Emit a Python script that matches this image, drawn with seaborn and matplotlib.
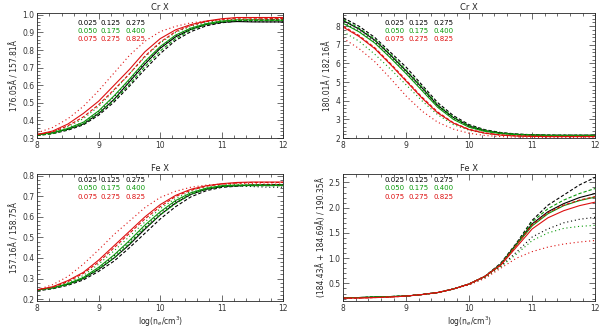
import numpy as np
import pandas as pd
import matplotlib
matplotlib.use('Agg')
import matplotlib.pyplot as plt
from matplotlib.ticker import AutoMinorLocator, MultipleLocator
import seaborn as sns

# density grid log(ne / cm^-3)
log_ne = [8.0, 8.25, 8.5, 8.75, 9.0, 9.25, 9.5, 9.75, 10.0,
          10.25, 10.5, 10.75, 11.0, 11.25, 11.5, 11.75, 12.0]

# legend table: rows -> colour, columns -> line style
row_names = ['k', 'g', 'r']
col_names = ['dot', 'solid', 'dash']
legend_rows = [['0.025', '0.125', '0.275'],
               ['0.050', '0.175', '0.400'],
               ['0.075', '0.275', '0.825']]

titles = ['Cr X', 'Cr X', 'Fe X', 'Fe X']
ylabels = ['176.05Å / 157.81Å', '180.01Å / 182.16Å',
           '157.16Å / 158.75Å', '(184.43Å + 184.69Å) / 190.35Å']

# panel 1 (top left)
p1_k_dot = [0.32, 0.33, 0.355, 0.39, 0.45, 0.535, 0.63, 0.73, 0.815, 0.88, 0.925, 0.95, 0.962, 0.965, 0.962, 0.96, 0.96]
p1_k_solid = [0.32, 0.33, 0.35, 0.38, 0.44, 0.52, 0.62, 0.72, 0.81, 0.875, 0.918, 0.945, 0.958, 0.962, 0.96, 0.96, 0.96]
p1_k_dash = [0.315, 0.325, 0.345, 0.375, 0.43, 0.505, 0.595, 0.69, 0.78, 0.855, 0.905, 0.938, 0.955, 0.965, 0.97, 0.972, 0.972]
p1_g_dot = [0.32, 0.335, 0.365, 0.41, 0.48, 0.57, 0.665, 0.76, 0.84, 0.9, 0.935, 0.958, 0.97, 0.975, 0.975, 0.975, 0.975]
p1_g_solid = [0.32, 0.33, 0.355, 0.39, 0.455, 0.54, 0.635, 0.735, 0.82, 0.885, 0.925, 0.95, 0.965, 0.972, 0.972, 0.97, 0.97]
p1_g_dash = [0.315, 0.325, 0.35, 0.38, 0.44, 0.515, 0.605, 0.705, 0.795, 0.865, 0.915, 0.945, 0.96, 0.968, 0.968, 0.968, 0.968]
p1_r_dot = [0.33, 0.36, 0.41, 0.48, 0.57, 0.67, 0.77, 0.85, 0.905, 0.935, 0.955, 0.965, 0.972, 0.975, 0.975, 0.975, 0.975]
p1_r_solid = [0.32, 0.34, 0.38, 0.44, 0.51, 0.60, 0.69, 0.79, 0.865, 0.915, 0.945, 0.965, 0.978, 0.985, 0.985, 0.985, 0.985]
p1_r_dash = [0.32, 0.335, 0.37, 0.42, 0.49, 0.575, 0.665, 0.765, 0.845, 0.905, 0.94, 0.962, 0.975, 0.982, 0.982, 0.98, 0.98]

# panel 2 (top right)
p2_k_dot = [8.2, 7.75, 7.15, 6.35, 5.5, 4.6, 3.7, 3.05, 2.6, 2.37, 2.25, 2.19, 2.16, 2.15, 2.15, 2.15, 2.15]
p2_k_solid = [8.3, 7.85, 7.25, 6.45, 5.6, 4.7, 3.75, 3.1, 2.65, 2.4, 2.27, 2.2, 2.17, 2.15, 2.15, 2.15, 2.15]
p2_k_dash = [8.45, 8.0, 7.4, 6.6, 5.8, 4.85, 3.9, 3.2, 2.72, 2.45, 2.3, 2.22, 2.18, 2.16, 2.15, 2.15, 2.15]
p2_g_dot = [7.7, 7.2, 6.5, 5.7, 4.85, 4.0, 3.25, 2.72, 2.42, 2.25, 2.16, 2.12, 2.1, 2.1, 2.1, 2.1, 2.1]
p2_g_solid = [8.15, 7.7, 7.1, 6.3, 5.45, 4.55, 3.65, 3.0, 2.58, 2.36, 2.24, 2.18, 2.15, 2.14, 2.14, 2.14, 2.14]
p2_g_dash = [8.35, 7.9, 7.3, 6.5, 5.65, 4.75, 3.8, 3.12, 2.67, 2.42, 2.28, 2.21, 2.18, 2.16, 2.15, 2.15, 2.15]
p2_r_dot = [7.35, 6.8, 6.1, 5.2, 4.25, 3.45, 2.85, 2.48, 2.26, 2.14, 2.08, 2.05, 2.04, 2.04, 2.04, 2.04, 2.04]
p2_r_solid = [7.95, 7.45, 6.8, 5.95, 5.05, 4.15, 3.35, 2.8, 2.45, 2.26, 2.16, 2.11, 2.09, 2.08, 2.08, 2.08, 2.08]
p2_r_dash = [8.0, 7.5, 6.85, 6.0, 5.1, 4.2, 3.4, 2.82, 2.47, 2.28, 2.17, 2.12, 2.1, 2.09, 2.09, 2.09, 2.09]

# panel 3 (bottom left)
p3_k_dot = [0.245, 0.255, 0.275, 0.305, 0.352, 0.41, 0.478, 0.55, 0.62, 0.675, 0.715, 0.738, 0.75, 0.752, 0.748, 0.745, 0.745]
p3_k_solid = [0.245, 0.254, 0.272, 0.3, 0.345, 0.4, 0.465, 0.54, 0.61, 0.668, 0.71, 0.735, 0.748, 0.752, 0.755, 0.755, 0.755]
p3_k_dash = [0.24, 0.25, 0.267, 0.293, 0.335, 0.385, 0.45, 0.52, 0.59, 0.65, 0.698, 0.728, 0.744, 0.75, 0.755, 0.758, 0.758]
p3_g_dot = [0.245, 0.257, 0.28, 0.315, 0.37, 0.435, 0.505, 0.575, 0.64, 0.69, 0.725, 0.745, 0.755, 0.758, 0.758, 0.755, 0.755]
p3_g_solid = [0.245, 0.255, 0.275, 0.305, 0.355, 0.415, 0.485, 0.56, 0.625, 0.68, 0.718, 0.74, 0.752, 0.755, 0.755, 0.755, 0.755]
p3_g_dash = [0.242, 0.252, 0.27, 0.3, 0.345, 0.4, 0.47, 0.545, 0.61, 0.665, 0.71, 0.735, 0.748, 0.752, 0.752, 0.752, 0.752]
p3_r_dot = [0.245, 0.27, 0.31, 0.37, 0.44, 0.515, 0.58, 0.645, 0.695, 0.725, 0.745, 0.755, 0.76, 0.762, 0.762, 0.76, 0.76]
p3_r_solid = [0.245, 0.26, 0.29, 0.33, 0.39, 0.46, 0.53, 0.6, 0.66, 0.705, 0.735, 0.752, 0.762, 0.768, 0.77, 0.77, 0.77]
p3_r_dash = [0.245, 0.258, 0.285, 0.325, 0.38, 0.45, 0.52, 0.59, 0.65, 0.7, 0.73, 0.75, 0.76, 0.765, 0.768, 0.768, 0.768]

# panel 4 (bottom right)
p4_k_dot = [0.22, 0.22, 0.23, 0.24, 0.25, 0.28, 0.32, 0.39, 0.48, 0.62, 0.84, 1.12, 1.42, 1.58, 1.7, 1.77, 1.81]
p4_k_solid = [0.22, 0.22, 0.23, 0.24, 0.25, 0.28, 0.32, 0.39, 0.49, 0.64, 0.88, 1.28, 1.68, 1.92, 2.08, 2.2, 2.28]
p4_k_dash = [0.21, 0.22, 0.23, 0.24, 0.25, 0.28, 0.32, 0.39, 0.49, 0.64, 0.9, 1.3, 1.75, 2.05, 2.25, 2.45, 2.6]
p4_g_dot = [0.22, 0.22, 0.23, 0.24, 0.25, 0.28, 0.32, 0.39, 0.48, 0.62, 0.83, 1.08, 1.35, 1.5, 1.59, 1.63, 1.65]
p4_g_solid = [0.22, 0.22, 0.23, 0.24, 0.25, 0.28, 0.32, 0.39, 0.49, 0.64, 0.87, 1.26, 1.64, 1.88, 2.04, 2.14, 2.21]
p4_g_dash = [0.22, 0.22, 0.23, 0.24, 0.25, 0.28, 0.32, 0.39, 0.49, 0.64, 0.88, 1.28, 1.72, 1.98, 2.15, 2.28, 2.38]
p4_r_dot = [0.2, 0.21, 0.22, 0.23, 0.25, 0.28, 0.32, 0.39, 0.47, 0.6, 0.8, 1.0, 1.13, 1.22, 1.28, 1.32, 1.35]
p4_r_solid = [0.21, 0.21, 0.22, 0.23, 0.25, 0.28, 0.32, 0.39, 0.49, 0.64, 0.86, 1.22, 1.58, 1.8, 1.94, 2.04, 2.11]
p4_r_dash = [0.21, 0.21, 0.22, 0.23, 0.25, 0.28, 0.32, 0.39, 0.49, 0.64, 0.87, 1.26, 1.66, 1.9, 2.05, 2.15, 2.22]

panels = [
    {'k': [p1_k_dot, p1_k_solid, p1_k_dash], 'g': [p1_g_dot, p1_g_solid, p1_g_dash], 'r': [p1_r_dot, p1_r_solid, p1_r_dash]},
    {'k': [p2_k_dot, p2_k_solid, p2_k_dash], 'g': [p2_g_dot, p2_g_solid, p2_g_dash], 'r': [p2_r_dot, p2_r_solid, p2_r_dash]},
    {'k': [p3_k_dot, p3_k_solid, p3_k_dash], 'g': [p3_g_dot, p3_g_solid, p3_g_dash], 'r': [p3_r_dot, p3_r_solid, p3_r_dash]},
    {'k': [p4_k_dot, p4_k_solid, p4_k_dash], 'g': [p4_g_dot, p4_g_solid, p4_g_dash], 'r': [p4_r_dot, p4_r_solid, p4_r_dash]},
]

ylims = [(0.3, 1.01), (2.0, 8.7), (0.19, 0.81), (0.15, 2.67)]
ymajor = [0.1, 1.0, 0.1, 0.5]
yfmt = ['%.1f', '%d', '%.1f', '%.1f']

palette = {'k': 'black', 'g': '#0a9a0a', 'r': '#dd1010'}
dashes = {'dot': (1, 2.5), 'solid': '', 'dash': (3, 1.8)}


def to_long(panel):
    rows = []
    for c in row_names:
        for s, vals in zip(col_names, panel[c]):
            for x, y in zip(log_ne, vals):
                rows.append({'logne': x, 'ratio': y, 'colour': c, 'style': s})
    return pd.DataFrame(rows)


def main():
    sns.set_theme(style='ticks')
    plt.rcParams['font.family'] = ['DejaVu Sans']
    plt.rcParams['font.size'] = 5.5

    fig = plt.figure(figsize=(6.0, 3.28), dpi=100)
    boxes = [[0.062, 0.579, 0.41, 0.381], [0.572, 0.579, 0.42, 0.381],
             [0.062, 0.082, 0.41, 0.388], [0.572, 0.082, 0.42, 0.388]]

    for i, panel in enumerate(panels):
        ax = fig.add_axes(boxes[i])
        df = to_long(panel)
        sns.lineplot(data=df, x='logne', y='ratio', hue='colour', style='style',
                     palette=palette, dashes=dashes, legend=False, ax=ax,
                     linewidth=0.8, hue_order=row_names, style_order=col_names)
        ax.set_xlim(8, 12)
        ax.set_ylim(*ylims[i])
        ax.xaxis.set_major_locator(MultipleLocator(1))
        ax.yaxis.set_major_locator(MultipleLocator(ymajor[i]))
        ax.yaxis.set_major_formatter(matplotlib.ticker.FormatStrFormatter(yfmt[i]))
        ax.xaxis.set_minor_locator(AutoMinorLocator(5))
        ax.yaxis.set_minor_locator(AutoMinorLocator(5))
        ax.tick_params(which='both', direction='in', top=True, right=True,
                       labelsize=5.5, width=0.5, pad=2, colors='#333333')
        ax.tick_params(which='major', length=4)
        ax.tick_params(which='minor', length=2)
        for sp in ax.spines.values():
            sp.set_linewidth(0.6)
        ax.set_title(titles[i], fontsize=6, pad=2)
        ax.set_ylabel(ylabels[i], fontsize=5.5, labelpad=2)
        if i >= 2:
            ax.set_xlabel('log(n$_e$/cm$^3$)', fontsize=5.5, labelpad=1)
        else:
            ax.set_xlabel('')

        # legend table
        top = 0.92 if i < 2 else 0.95
        xs = [0.165, 0.258, 0.36]
        for r, c in enumerate(row_names):
            for j in range(3):
                ax.text(xs[j], top - 0.065 * r, legend_rows[r][j],
                        transform=ax.transAxes, fontsize=5, color=palette[c],
                        va='center', ha='left')
        if i >= 2:
            for j, s in enumerate(col_names):
                ls = {'dot': (0, (1, 2.5)), 'solid': '-', 'dash': (0, (3, 1.8))}[s]
                ax.plot([xs[j], xs[j] + 0.07], [0.995, 0.995], transform=ax.transAxes,
                        color='black', lw=0.7, linestyle=ls, clip_on=False)

    plt.savefig('out.png', dpi=100)


if __name__ == "__main__":
    main()
